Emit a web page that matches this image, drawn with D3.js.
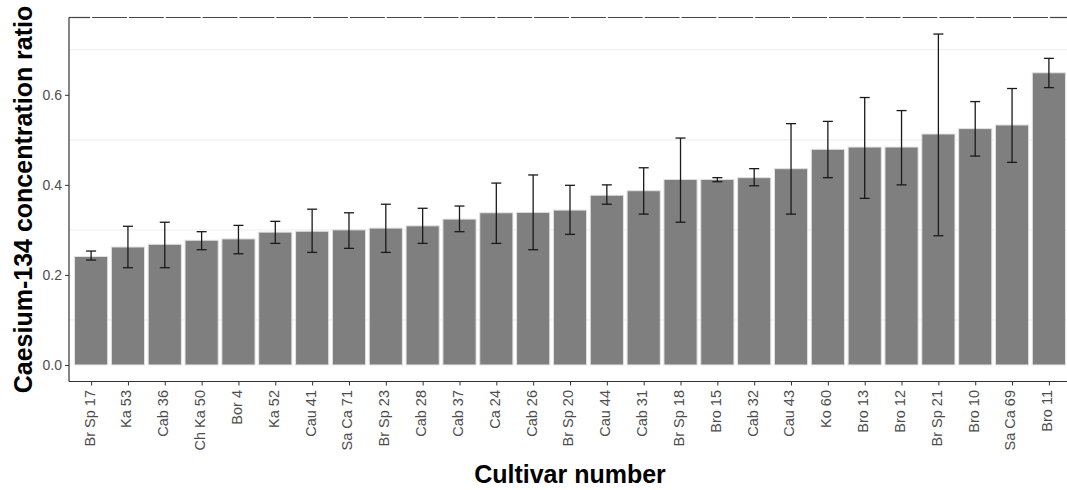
<!DOCTYPE html>
<html>
<head>
<meta charset="utf-8">
<script src="https://cdn.jsdelivr.net/npm/d3@7"></script>
<style>
body { margin: 0; background: #fff; }
svg { display: block; font-family: "Liberation Sans", Arial, sans-serif; }
</style>
</head>
<body>
<svg id="chart" width="1067" height="490"></svg>
<script>
// datos
var cultivars = ['Br Sp 17','Ka 53','Cab 36','Ch Ka 50','Bor 4','Ka 52','Cau 41','Sa Ca 71','Br Sp 23',
    'Cab 28','Cab 37','Ca 24','Cab 26','Br Sp 20','Cau 44','Cab 31','Br Sp 18','Bro 15','Cab 32',
    'Cau 43','Ko 60','Bro 13','Bro 12','Br Sp 21','Bro 10','Sa Ca 69','Bro 11'];
var ratio = [0.241,0.262,0.268,0.277,0.280,0.295,0.297,0.300,0.304,0.309,0.324,0.338,0.339,0.344,
    0.377,0.387,0.412,0.412,0.416,0.436,0.479,0.484,0.484,0.513,0.525,0.533,0.649];
var upper = [0.253,0.308,0.317,0.296,0.310,0.319,0.346,0.338,0.357,0.348,0.353,0.404,0.422,0.399,
    0.400,0.438,0.504,0.416,0.436,0.536,0.541,0.594,0.565,0.735,0.585,0.614,0.681];
var lower = [0.233,0.216,0.216,0.256,0.247,0.270,0.250,0.259,0.250,0.270,0.296,0.270,0.256,0.290,
    0.357,0.335,0.317,0.407,0.398,0.335,0.416,0.370,0.400,0.287,0.464,0.450,0.616];
var yTicks = [0, 0.2, 0.4, 0.6];
var yMinor = [0.1, 0.3, 0.5, 0.7];

var svg = d3.select('#chart');
var pLeft = 69, pRight = 1071, pTop = 17.5, pBottom = 381.5;

// escala y con 5% de expansion como ggplot
var yMax = d3.max(upper);
var pad = yMax * 0.05;
var y = d3.scaleLinear().domain([-pad, yMax + pad]).range([pBottom, pTop]);
var x = d3.scalePoint().domain(cultivars).range([pLeft, pRight]).padding(0.6);
var bw = x.step() * 0.9;

// rejilla menor
svg.append('g').selectAll('line').data(yMinor).enter().append('line')
    .attr('x1', pLeft).attr('x2', pRight)
    .attr('y1', function(d){ return y(d); }).attr('y2', function(d){ return y(d); })
    .attr('stroke', '#ededed').attr('stroke-width', 1);

// barras
svg.append('g').selectAll('rect').data(cultivars).enter().append('rect')
    .attr('x', function(d){ return x(d) - bw/2; })
    .attr('width', bw)
    .attr('y', function(d, i){ return y(ratio[i]); })
    .attr('height', function(d, i){ return y(0) - y(ratio[i]); })
    .attr('fill', '#7f7f7f')
    .attr('stroke', '#e2e2e2').attr('stroke-width', 1);

// barras de error
var eb = svg.append('g').attr('stroke', '#1a1a1a').attr('stroke-width', 1.3).attr('fill', 'none');
cultivars.forEach(function(c, i){
    var cx = x(c);
    eb.append('line').attr('x1', cx).attr('x2', cx).attr('y1', y(upper[i])).attr('y2', y(lower[i]));
    eb.append('line').attr('x1', cx - 5).attr('x2', cx + 5).attr('y1', y(upper[i])).attr('y2', y(upper[i]));
    eb.append('line').attr('x1', cx - 5).attr('x2', cx + 5).attr('y1', y(lower[i])).attr('y2', y(lower[i]));
});

// borde superior cortado en cada categoria
var edges = [pLeft].concat(cultivars.map(function(c){ return x(c); })).concat([pRight]);
var topLine = svg.append('g').attr('stroke', '#444').attr('stroke-width', 1.2);
for (var k = 0; k < edges.length - 1; k++) {
    topLine.append('line')
        .attr('x1', edges[k] + (k === 0 ? 0 : 1)).attr('x2', edges[k+1] - 1)
        .attr('y1', pTop).attr('y2', pTop);
}

// eje y
var yAxis = d3.axisLeft(y).tickValues(yTicks).tickSize(4).tickPadding(3).tickFormat(d3.format('.1f'));
var gy = svg.append('g').attr('transform', 'translate(' + pLeft + ',0)').call(yAxis);
gy.select('.domain').remove();
gy.append('line').attr('x1', 0).attr('x2', 0).attr('y1', pTop).attr('y2', pBottom).attr('stroke', '#333').attr('stroke-width', 1.2);
gy.selectAll('.tick line').attr('stroke', '#333');
gy.selectAll('.tick text').attr('font-size', 14).attr('fill', '#4d4d4d').attr('font-family', '"Liberation Sans", Arial, sans-serif');

// eje x
var xAxis = d3.axisBottom(x).tickSize(4).tickSizeOuter(0);
var gx = svg.append('g').attr('transform', 'translate(0,' + pBottom + ')').call(xAxis);
gx.select('.domain').remove();
gx.append('line').attr('x1', pLeft).attr('x2', pRight).attr('y1', 0).attr('y2', 0).attr('stroke', '#333').attr('stroke-width', 1.2);
gx.selectAll('.tick line').attr('stroke', '#333');
gx.selectAll('.tick text')
    .attr('font-size', 14.5).attr('fill', '#4d4d4d').attr('font-family', '"Liberation Sans", Arial, sans-serif')
    .attr('text-anchor', 'end')
    .attr('transform', 'translate(0,' + (390 - pBottom) + ') rotate(-90)')
    .attr('x', 0).attr('y', 0).attr('dy', '0.2em');

// titulos
svg.append('text').text('Caesium-134 concentration ratio')
    .attr('transform', 'translate(32,' + ((pTop + pBottom) / 2) + ') rotate(-90)')
    .attr('text-anchor', 'middle').attr('font-size', 25).attr('font-weight', 'bold').attr('fill', '#000');
svg.append('text').text('Cultivar number')
    .attr('x', (pLeft + pRight) / 2).attr('y', 483)
    .attr('text-anchor', 'middle').attr('font-size', 25).attr('font-weight', 'bold').attr('fill', '#000');
</script>
</body>
</html>
